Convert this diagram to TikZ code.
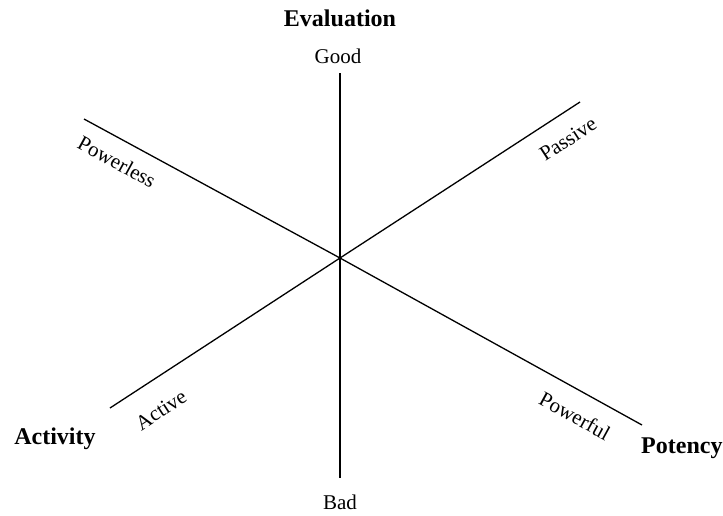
\documentclass[tikz,border=0pt]{standalone}
\usepackage{fontspec}
\setmainfont{Liberation Serif}
\begin{document}
\begin{tikzpicture}[x=1pt,y=-1pt,
  axis/.style={line width=1.3pt,black},
  pole/.style={font=\fontsize{21}{25}\selectfont,inner sep=0pt},
  dim/.style={font=\bfseries\fontsize{24}{28}\selectfont,inner sep=0pt}]
\useasboundingbox (0,0) rectangle (723,515);
% axis end points
\coordinate (O) at (340,258);
\coordinate (Vt) at (340,73);
\coordinate (Vb) at (340,478);
\coordinate (Pl) at (84,119);
\coordinate (Pr) at (642,425);
\coordinate (Al) at (110,408);
\coordinate (Ar) at (580,102);
\draw[axis] (Vt) -- (O) -- (Vb);
\draw[axis] (Pl) -- (O) -- (Pr);
\draw[axis] (Al) -- (O) -- (Ar);
% dimension labels
\node[dim] (eval) at (340,18) {Evaluation};
\node[dim] (act) at (55,439) {Activity};
\node[dim,anchor=west] (pot) at (641,448) {Potency};
% pole labels
\node[pole] (good) at (338,56) {Good};
\node[pole] (bad) at (340,502) {Bad};
\node[pole,rotate=-28.7] (powerless) at (117,162) {Powerless};
\node[pole,rotate=-28.7] (powerful) at (575,416) {Powerful};
\node[pole,rotate=33.1] (passive) at (568,139) {Passive};
\node[pole,rotate=33.1] (active) at (161,410) {Active};
\end{tikzpicture}
\end{document}
